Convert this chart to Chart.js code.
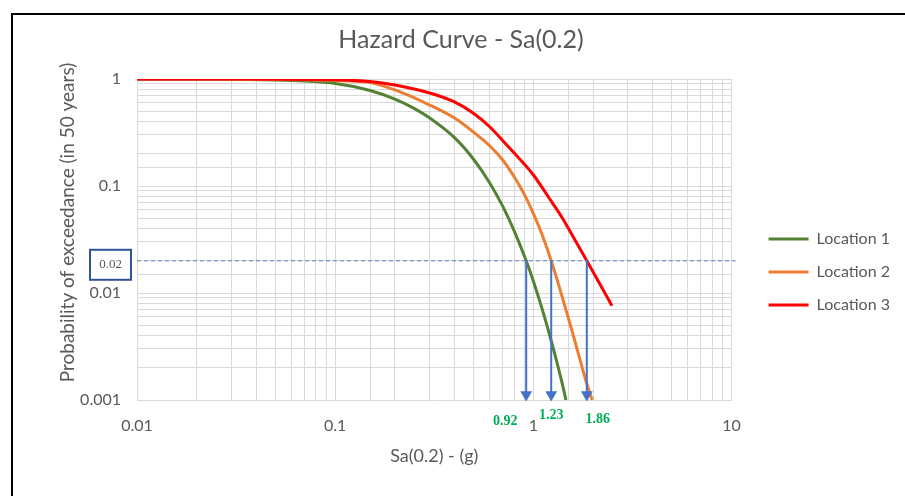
<!DOCTYPE html>
<html>
<head>
<meta charset="utf-8">
<title>Hazard Curve - Sa(0.2)</title>
<script src="https://cdn.jsdelivr.net/npm/chart.js@4.4.1/dist/chart.umd.min.js"></script>
<style>
  html, body { margin: 0; padding: 0; background: #ffffff; }
  #wrap { position: relative; width: 905px; height: 496px; }
</style>
</head>
<body>
<div id="wrap"><canvas id="hazardChart" width="905" height="496"></canvas></div>
<script>
// Location 1
var loc1Sa   = [0.01, 0.02, 0.03, 0.05, 0.07, 0.1, 0.15, 0.2, 0.25, 0.3, 0.4, 0.5, 0.6, 0.7, 0.8, 0.92, 1.0, 1.1, 1.2, 1.3, 1.4, 1.46];
var loc1Prob = [0.997, 0.995, 0.99, 0.979, 0.957, 0.908, 0.781, 0.649, 0.532, 0.432, 0.283, 0.177, 0.108, 0.0649, 0.0381, 0.02, 0.0129, 0.00738, 0.00423, 0.00244, 0.00141, 0.001];

// Location 2
var loc2Sa   = [0.01, 0.02, 0.03, 0.05, 0.07, 0.1, 0.15, 0.2, 0.3, 0.4, 0.5, 0.6, 0.7, 0.8, 0.9, 1.0, 1.1, 1.23, 1.4, 1.56, 1.7, 1.85, 1.98];
var loc2Prob = [0.999, 0.998, 0.996, 0.991, 0.983, 0.968, 0.925, 0.79, 0.571, 0.432, 0.318, 0.239, 0.175, 0.122, 0.0835, 0.0553, 0.0362, 0.02, 0.0091, 0.00455, 0.00257, 0.00147, 0.001];

// Location 3
var loc3Sa   = [0.01, 0.02, 0.03, 0.05, 0.07, 0.1, 0.15, 0.2, 0.3, 0.4, 0.5, 0.6, 0.75, 1.0, 1.2, 1.4, 1.6, 1.86, 2.2, 2.49];
var loc3Prob = [1.0, 0.999, 0.998, 0.996, 0.991, 0.983, 0.948, 0.879, 0.74, 0.61, 0.476, 0.36, 0.231, 0.1267, 0.0772, 0.0502, 0.0327, 0.02, 0.0115, 0.0076];

// 2% in 50 years threshold and the read-off values
var threshold   = 0.02;
var thresholdSa = [0.01, 10.5];
var arrowSa     = [0.92, 1.23, 1.86];
var arrowLabels = ['0.92', '1.23', '1.86'];
var arrowTip    = 0.00112;

var seriesNames = ['Location 1', 'Location 2', 'Location 3'];

var xTicks = [0.01, 0.1, 1, 10];
var xTickLabels = ['0.01', '0.1', '1', '10'];
var yTicks = [0.001, 0.01, 0.1, 1];
var yTickLabels = ['0.001', '0.01', '0.1', '1'];


var FONT = 'Lato, "Open Sans", sans-serif';
var GREY_TEXT = '#595959';
var ARROW_BLUE = '#4472C4';
var Y_TITLE = 'Probability of exceedance (in 50 years)';

function toPoints(xs, ys) {
  return xs.map(function(x, i) { return { x: x, y: ys[i] }; });
}

function tickLabel(list, labels) {
  return function(value) {
    for (var i = 0; i < list.length; i++) {
      if (Math.abs(value - list[i]) / list[i] < 1e-6) return labels[i];
    }
    return '';
  };
}

var datasets = [];

// arrows first so they sit on top
arrowSa.forEach(function(sa) {
  datasets.push({
    label: 'arrow ' + sa,
    data: [{ x: sa, y: threshold }, { x: sa, y: arrowTip }],
    borderColor: ARROW_BLUE,
    backgroundColor: ARROW_BLUE,
    borderWidth: 2,
    pointRadius: [0, 6.8],
    pointStyle: 'triangle',
    rotation: 180,
    pointBackgroundColor: ARROW_BLUE,
    pointBorderWidth: 0,
    clip: false,
    order: 0
  });
});

datasets.push({
  label: 'threshold',
  data: toPoints(thresholdSa, [threshold, threshold]),
  borderColor: '#5B7FC8',
  borderWidth: 1,
  borderDash: [4, 3],
  pointRadius: 0,
  clip: false,
  order: 1
});

datasets.push({
  label: seriesNames[2],
  data: toPoints(loc3Sa, loc3Prob),
  borderColor: '#FF0000',
  backgroundColor: '#FF0000',
  borderWidth: 3,
  pointRadius: 0,
  cubicInterpolationMode: 'monotone',
  order: 2
});
datasets.push({
  label: seriesNames[1],
  data: toPoints(loc2Sa, loc2Prob),
  borderColor: '#ED7D31',
  backgroundColor: '#ED7D31',
  borderWidth: 3,
  pointRadius: 0,
  cubicInterpolationMode: 'monotone',
  order: 3
});
datasets.push({
  label: seriesNames[0],
  data: toPoints(loc1Sa, loc1Prob),
  borderColor: '#548235',
  backgroundColor: '#548235',
  borderWidth: 3,
  pointRadius: 0,
  cubicInterpolationMode: 'monotone',
  order: 4
});


// frame, y title, 0.02 box and the green read-off numbers
var extrasPlugin = {
  id: 'extras',
  afterLayout: function(chart) {
    var lg = chart.legend;
    if (lg) {
      var dx = chart.chartArea.right + 20 - lg.left;
      var dy = 17;
      lg.left += dx; lg.right += dx;
      lg.top += dy; lg.bottom += dy;
    }
    var tb = chart.titleBlock;
    if (tb) {
      var tdx = 461 - (tb.left + tb.right) / 2;
      tb.left += tdx; tb.right += tdx;
    }
  },
  beforeDraw: function(chart) {
    var ctx = chart.ctx;
    ctx.save();
    ctx.fillStyle = '#ffffff';
    ctx.fillRect(0, 0, chart.width, chart.height);
    ctx.restore();
  },
  afterDraw: function(chart) {
    var ctx = chart.ctx;
    var xs = chart.scales.x, ys = chart.scales.y;
    var area = chart.chartArea;
    ctx.save();

    // outer frame
    ctx.fillStyle = '#000000';
    ctx.fillRect(11, 13, 2, chart.height);
    ctx.fillRect(11, 13, chart.width, 2);

    // y axis title
    ctx.save();
    ctx.translate(68, (area.top + area.bottom) / 2 - 17);
    ctx.rotate(-Math.PI / 2);
    ctx.fillStyle = GREY_TEXT;
    ctx.font = '19px ' + FONT;
    ctx.textAlign = 'center';
    ctx.textBaseline = 'middle';
    ctx.fillText(Y_TITLE, 0, 0);
    ctx.restore();

    // 0.02 label box
    var yT = ys.getPixelForValue(threshold);
    ctx.strokeStyle = '#2F5597';
    ctx.lineWidth = 2;
    ctx.strokeRect(90, yT - 11, 41, 30);
    ctx.fillStyle = GREY_TEXT;
    ctx.font = '13px "Liberation Serif", serif';
    ctx.textAlign = 'center';
    ctx.textBaseline = 'middle';
    ctx.fillText(String(threshold), 110.5, yT + 4);

    // read-off values
    var offX = [-21, 0, 11];
    var offY = [21, 15, 19];
    ctx.fillStyle = '#00B050';
    ctx.font = 'bold 14px "Liberation Serif", serif';
    arrowSa.forEach(function(sa, i) {
      ctx.fillText(arrowLabels[i], xs.getPixelForValue(sa) + offX[i], area.bottom + offY[i]);
    });
    ctx.restore();
  }
};

var ctx = document.getElementById('hazardChart').getContext('2d');

var hazardChart = new Chart(ctx, {
  type: 'line',
  data: { datasets: datasets },
  plugins: [extrasPlugin],
  options: {
    responsive: false,
    animation: false,
    devicePixelRatio: 1,
    layout: { padding: { left: 14, top: 14, right: 25, bottom: 0 } },
    plugins: {
      tooltip: { enabled: false },
      title: {
        display: true,
        text: 'Hazard Curve - Sa(0.2)',
        color: GREY_TEXT,
        font: { family: FONT, size: 25, weight: 'normal' },
        padding: { top: 11, bottom: 24 }
      },
      legend: {
        position: 'right',
        labels: {
          color: GREY_TEXT,
          font: { family: FONT, size: 16 },
          usePointStyle: true,
          pointStyle: 'line',
          pointStyleWidth: 40,
          padding: 17,
          filter: function(item) { return seriesNames.indexOf(item.text) >= 0; },
          sort: function(a, b) { return seriesNames.indexOf(a.text) - seriesNames.indexOf(b.text); }
        }
      }
    },
    scales: {
      x: {
        type: 'logarithmic',
        min: 0.01,
        max: 10,
        grid: { color: '#d9d9d9', drawTicks: false },
        border: { display: false },
        ticks: {
          autoSkip: false,
          maxRotation: 0,
          padding: 16,
          color: GREY_TEXT,
          font: { family: FONT, size: 16 },
          callback: tickLabel(xTicks, xTickLabels)
        },
        title: {
          display: true,
          text: 'Sa(0.2) - (g)',
          color: GREY_TEXT,
          font: { family: FONT, size: 18 },
          padding: { top: 0, bottom: 29 }
        },
        afterFit: function(s) { s.height = 96; }
      },
      y: {
        type: 'logarithmic',
        min: 0.001,
        max: 1,
        grid: { color: '#d9d9d9', drawTicks: false },
        border: { display: false },
        ticks: {
          autoSkip: false,
          padding: 16,
          color: GREY_TEXT,
          font: { family: FONT, size: 16 },
          callback: tickLabel(yTicks, yTickLabels)
        },
        afterFit: function(s) { s.width = 123; }
      }
    }
  }
});
</script>
</body>
</html>
